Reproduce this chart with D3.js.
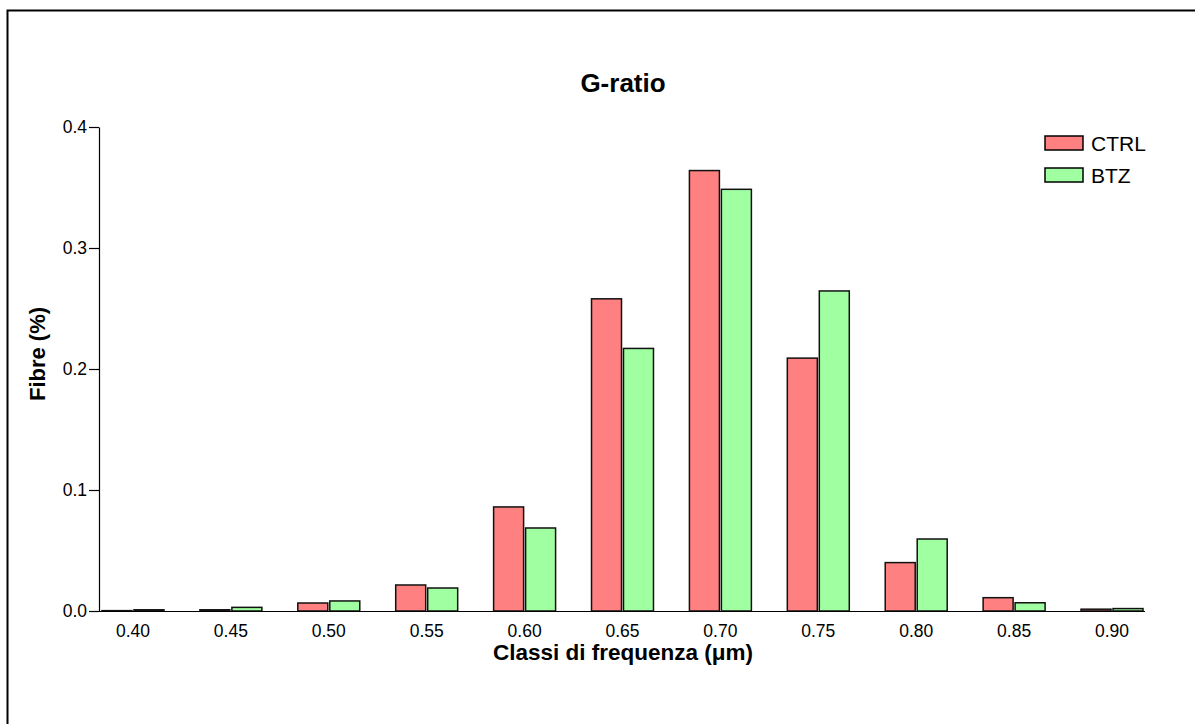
<!DOCTYPE html>
<html>
<head>
<meta charset="utf-8">
<title>G-ratio</title>
<script src="https://cdn.jsdelivr.net/npm/d3@7"></script>
<style>
  body { margin: 0; background: #fff; }
  svg { font-family: "Liberation Sans", Arial, sans-serif; }
</style>
</head>
<body>
<div id="chart"></div>
<script>
// data
var classes = ["0.40", "0.45", "0.50", "0.55", "0.60", "0.65", "0.70", "0.75", "0.80", "0.85", "0.90"];
var ctrl = [0.0003, 0.001, 0.0066, 0.0215, 0.086, 0.258, 0.364, 0.209, 0.040, 0.011, 0.0015];
var btz  = [0.001, 0.003, 0.0083, 0.019, 0.0686, 0.217, 0.3485, 0.2645, 0.0595, 0.0068, 0.002];
var seriesNames = ["CTRL", "BTZ"];
var seriesColors = ["#ff8080", "#a0ffa0"];
var yTicks = [0.0, 0.1, 0.2, 0.3, 0.4];

var width = 1195, height = 724;
var svg = d3.select("#chart").append("svg")
  .attr("width", width)
  .attr("height", height);

// outer frame
svg.append("rect")
  .attr("x", 7.5).attr("y", 10.5)
  .attr("width", width + 10).attr("height", height + 10)
  .attr("fill", "none").attr("stroke", "#000").attr("stroke-width", 2);

var axisLeft = 99, axisRight = 1145, axisBottom = 611, axisTop = 127;

var x = d3.scaleBand().domain(classes).range([102, 1143]).paddingInner(0.367).paddingOuter(0);
var xs = d3.scaleBand().domain(seriesNames).range([0, x.bandwidth()]).paddingInner(0.0625);
var y = d3.scaleLinear().domain([0, 0.4]).range([axisBottom, axisTop]);

var rows = classes.map(function(c, i) { return { cls: c, values: [ctrl[i], btz[i]] }; });

var groups = svg.append("g").selectAll("g")
  .data(rows).enter().append("g")
  .attr("transform", function(d) { return "translate(" + x(d.cls) + ",0)"; });

groups.selectAll("rect")
  .data(function(d) { return d.values.map(function(v, j) { return { name: seriesNames[j], v: v, j: j }; }); })
  .enter().append("rect")
  .attr("x", function(d) { return xs(d.name); })
  .attr("y", function(d) { return y(d.v); })
  .attr("width", xs.bandwidth())
  .attr("height", function(d) { return axisBottom - y(d.v); })
  .attr("fill", function(d) { return seriesColors[d.j]; })
  .attr("stroke", "#111")
  .attr("stroke-width", 1.5);

// y axis
var yAxis = svg.append("g")
  .attr("transform", "translate(" + axisLeft + ",0)")
  .call(d3.axisLeft(y).tickValues(yTicks).tickFormat(d3.format(".1f")).tickSize(10).tickPadding(2).tickSizeOuter(0));
yAxis.selectAll("text").attr("font-size", 17.5).attr("fill", "#000").attr("font-family", "Liberation Sans, Arial, sans-serif");
yAxis.selectAll("line, path").attr("stroke", "#000").attr("stroke-width", 1.2);

// x axis
var xAxis = svg.append("g")
  .attr("transform", "translate(0," + axisBottom + ")")
  .call(d3.axisBottom(x).tickSize(0).tickPadding(14));
xAxis.select(".domain").remove();
xAxis.selectAll("text").attr("font-size", 17.5).attr("fill", "#000").attr("font-family", "Liberation Sans, Arial, sans-serif");
svg.append("line")
  .attr("x1", axisLeft).attr("x2", axisRight)
  .attr("y1", axisBottom + 0.5).attr("y2", axisBottom + 0.5)
  .attr("stroke", "#000").attr("stroke-width", 1.2);

// titles
svg.append("text")
  .attr("x", 623).attr("y", 92)
  .attr("text-anchor", "middle")
  .attr("font-size", 26).attr("font-weight", "bold")
  .text("G-ratio");

svg.append("text")
  .attr("x", 623).attr("y", 660)
  .attr("text-anchor", "middle")
  .attr("font-size", 22.5).attr("font-weight", "bold")
  .text("Classi di frequenza (\u03bcm)");

svg.append("text")
  .attr("transform", "translate(45,354) rotate(-90)")
  .attr("text-anchor", "middle")
  .attr("font-size", 22).attr("font-weight", "bold")
  .text("Fibre (%)");

// legend
var legend = svg.append("g").attr("transform", "translate(1045,136)");
var items = legend.selectAll("g").data(seriesNames).enter().append("g")
  .attr("transform", function(d, i) { return "translate(0," + (i * 32) + ")"; });
items.append("rect")
  .attr("width", 38).attr("height", 14)
  .attr("fill", function(d, i) { return seriesColors[i]; })
  .attr("stroke", "#000").attr("stroke-width", 1.5);
items.append("text")
  .attr("x", 46).attr("y", 14.5)
  .attr("font-size", 21)
  .text(function(d) { return d; });
</script>
</body>
</html>
